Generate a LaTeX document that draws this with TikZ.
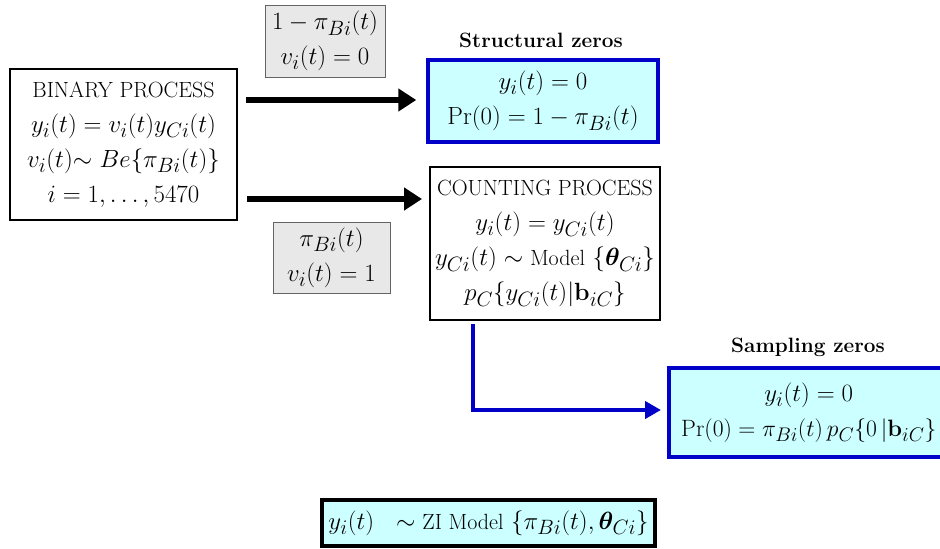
\documentclass[tikz,border=0pt]{standalone}
\usepackage{amsmath,bm,graphicx}
\usetikzlibrary{arrows.meta,calc}
\definecolor{cyanfill}{RGB}{204,255,255}
\definecolor{boxblue}{RGB}{0,0,200}
\definecolor{grayfill}{RGB}{232,232,232}
\definecolor{grayline}{RGB}{100,100,100}
\newcommand{\tx}[1]{\mbox{\fontsize{22}{35}\selectfont #1}}
\tikzset{
  txt/.style={font=\fontsize{24.88}{35}\selectfont, align=center, inner sep=0pt},
  blackbox/.style={txt, draw=black, line width=2pt, fill=white},
  labelbox/.style={txt, draw=grayline, line width=1pt, fill=grayfill},
  zerobox/.style={txt, draw=boxblue, line width=3.5pt, fill=cyanfill},
  zibox/.style={txt, draw=black, line width=4pt, fill=cyanfill},
  title/.style={font=\fontsize{20.74}{24}\selectfont\bfseries, inner sep=0pt},
  bigarrow/.style={line width=6pt, -{Triangle[length=18pt,width=22pt]}},
  bluearrow/.style={draw=boxblue, line width=4.5pt, -{Triangle[length=16pt,width=17pt]}},
}
\begin{document}
\begin{tikzpicture}[x=1pt,y=-1pt]
\useasboundingbox (0,0) rectangle (940,549);
\node[blackbox, minimum width=227pt, minimum height=151pt] (bin) at (123.5,144.5)
  {\tx{BINARY PROCESS}\\ $y_i(t)=v_i(t)y_{Ci}(t)$\\ $v_i(t){\sim}\ Be\{\pi_{Bi}(t)\}$\\ $i=1,\dots,5470$};
\node[labelbox, minimum width=120pt, minimum height=72pt] (lab1) at (325,41)
  {$1-\pi_{Bi}(t)$\\ $v_i(t)=0$};
\node[zerobox, minimum width=230pt, minimum height=82pt] (str) at (543,101)
  {$y_i(t)=0$\\ $\Pr(0)=1-\pi_{Bi}(t)$};
\node[title] (strt) at (541,40) {Structural zeros};
\node[labelbox, minimum width=117pt, minimum height=71pt] (lab2) at (331.5,257.5)
  {$\pi_{Bi}(t)$\\ $v_i(t)=1$};
\node[blackbox, minimum width=230pt, minimum height=153pt] (cnt) at (545,243.5)
  {\tx{COUNTING PROCESS}\\ $y_i(t)=y_{Ci}(t)$\\ $y_{Ci}(t)\sim\tx{Model}\ \{\bm{\theta}_{Ci}\}$\\ $p_C\{y_{Ci}(t)|\mathbf{b}_{iC}\}$};
\node[zerobox, minimum width=280pt, minimum height=89pt, anchor=west] (smp) at (667,412.5)
  {$y_i(t)=0$\\ \scalebox{0.95}{$\Pr(0)=\pi_{Bi}(t)\,p_C\{0\,|\mathbf{b}_{iC}\}$}};
\node[title] (smpt) at (808,347) {Sampling zeros};
\node[zibox, minimum width=333pt, minimum height=46pt] (zi) at (488.5,523)
  {$y_i(t)\ \ \sim\tx{ZI Model}\ \{\pi_{Bi}(t),\bm{\theta}_{Ci}\}$};
% arrows
\coordinate (a1) at ([yshift=1pt]str.west);
\draw[bigarrow, shorten <=8pt, shorten >=10pt] (bin.east |- a1) -- (a1);
\coordinate (a2) at ([yshift=-33pt]cnt.north west);
\draw[bigarrow, shorten <=9pt, shorten >=7pt] (bin.east |- a2) -- (a2);
\coordinate (b1) at ([xshift=44pt]cnt.south west);
\coordinate (b2) at ([yshift=2.5pt]smp.west);
\draw[bluearrow, shorten <=3pt, shorten >=6pt] (b1) |- (b2);
\end{tikzpicture}
\end{document}
